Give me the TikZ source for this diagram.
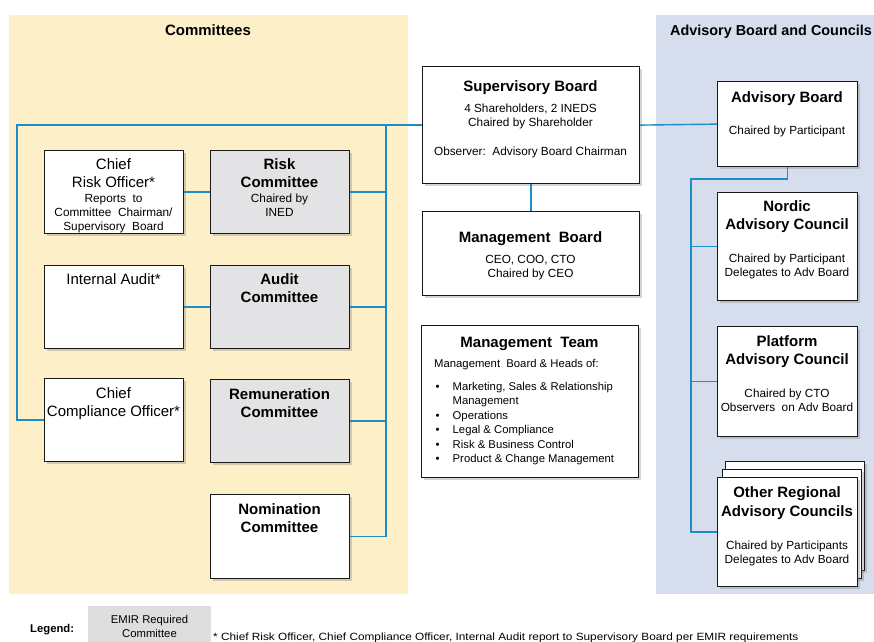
\documentclass[tikz,border=0pt]{standalone}
\usepackage{fontspec}
\setmainfont{Liberation Sans}
\usetikzlibrary{shadows}
\definecolor{panelY}{RGB}{253,239,200}
\definecolor{panelB}{RGB}{214,222,238}
\definecolor{boxG}{RGB}{227,227,229}
\definecolor{conn}{RGB}{30,140,198}
\definecolor{legG}{RGB}{222,222,222}
\newcommand\fT{\fontsize{15}{18}\selectfont\bfseries}
\newcommand\fR{\fontsize{15}{18}\selectfont}
\newcommand\fS{\fontsize{11.8}{14}\selectfont}
\newcommand\fM{\fontsize{11.3}{14.2}\selectfont}
\newcommand\tstrut{\rule{0pt}{12pt}}
\newcommand\sstrut{\rule{0pt}{10pt}}
\newcommand\bul{\hspace*{1.5pt}\makebox[17pt][l]{•}}
\begin{document}
\begin{tikzpicture}[x=1pt,y=-1pt,
  box/.style={draw=black!90, line width=1.2pt, fill=white, anchor=north west, inner sep=0,
    drop shadow={shadow xshift=2.5pt, shadow yshift=-2.5pt, opacity=0.35}},
  gbox/.style={box, fill=boxG},
  panel/.style={anchor=north west, inner sep=0, draw=none},
  txt/.style={inner sep=0, align=center, anchor=north, font=\fS},
  link/.style={draw=conn, line width=1.4pt}]
\useasboundingbox (0,0) rectangle (874,641);
% panels
\node[panel, fill=panelY, minimum width=399pt, minimum height=579pt] (cpanel) at (9,15) {};
\node[panel, fill=panelB, minimum width=218pt, minimum height=579pt] (apanel) at (656,15) {};
\node[inner sep=0, anchor=base, font=\fT] (ctitle) at (208,35.4) {Committees};
\node[inner sep=0, anchor=base west, font=\fontsize{14.4}{17}\selectfont\bfseries] (atitle) at (670,35.2) {Advisory Board and Councils};
% left boxes
\node[box, minimum width=139pt, minimum height=83pt] (cro) at (44,150) {};
\node[gbox, minimum width=139pt, minimum height=83pt] (risk) at (210,150) {};
\node[box, minimum width=139pt, minimum height=83pt] (ia) at (44,265) {};
\node[gbox, minimum width=139pt, minimum height=83pt] (audit) at (210,265) {};
\node[box, minimum width=139pt, minimum height=83pt] (cco) at (44,378) {};
\node[gbox, minimum width=139pt, minimum height=83pt] (rem) at (210,379) {};
\node[box, minimum width=139pt, minimum height=84pt] (nom) at (210,494) {};
% centre boxes
\node[box, minimum width=217pt, minimum height=117pt] (sb) at (422,66) {};
\node[box, minimum width=217pt, minimum height=84pt] (mb) at (422,211) {};
\node[box, minimum width=217pt, minimum height=152pt] (mt) at (421,325) {};
% right boxes
\node[box, minimum width=140pt, minimum height=85pt] (ab) at (717,81) {};
\node[box, minimum width=140pt, minimum height=108pt] (nordic) at (717,192) {};
\node[box, minimum width=140pt, minimum height=110pt] (platform) at (717,326) {};
\node[box, minimum width=139pt, minimum height=109pt] (other3) at (725,461) {};
\node[box, minimum width=139pt, minimum height=109pt] (other2) at (721.5,469) {};
\node[box, minimum width=140pt, minimum height=109pt] (other) at (717,477) {};
% texts
\node[txt] (crot) at (113.5,157.4) {\fR\tstrut Chief\\[4pt] \fR Risk Officer*\\[0.85pt] Reports\ \ to\\ Committee\ \ Chairman/\\ Supervisory\ \ Board};
\node[txt] (riskt) at (279.5,157.4) {\fT\tstrut Risk\\[4pt] \fT Committee\\[0.85pt] Chaired by\\ INED};
\node[txt] (iat) at (113.5,272.4) {\fR\tstrut Internal Audit*};
\node[txt] (auditt) at (279.5,272.4) {\fT\tstrut Audit\\[3.7pt] \fT Committee};
\node[txt] (ccot) at (113.5,386) {\fR\tstrut Chief\\[4pt] \fR Compliance Officer*};
\node[txt] (remt) at (279.5,387.7) {\fT\tstrut Remuneration\\[3.7pt] \fT Committee};
\node[txt] (nomt) at (279.5,502) {\fT\tstrut Nomination\\[4pt] \fT Committee};
\node[txt] (sbt) at (530.5,79.4) {\fT\tstrut Supervisory Board\\[6.85pt] 4 Shareholders, 2 INEDS\\ Chaired by Shareholder\\[15pt] Observer:\ \ Advisory Board Chairman};
\node[txt] (mbt) at (530.5,230.4) {\fT\tstrut Management\ \ Board\\[6.85pt] CEO, COO, CTO\\ Chaired by CEO};
\node[txt] (mtt) at (529.5,335.4) {\fT\tstrut Management\ \ Team};
\node[inner sep=0, anchor=north west, align=left, font=\fM] (mtb) at (434,357.3) {\sstrut Management\ \ Board \& Heads of:\\[9pt]
  \bul Marketing, Sales \& Relationship\\
  \hspace*{18.5pt}Management\\
  \bul Operations\\
  \bul Legal \& Compliance\\[0.8pt]
  \bul Risk \& Business Control\\
  \bul Product \& Change Management};
\node[txt] (abt) at (787,90.4) {\fT\tstrut Advisory Board\\[17.85pt] Chaired by Participant};
\node[txt] (nordict) at (787,199.4) {\fT\tstrut Nordic\\[4pt] \fT Advisory Council\\[18.85pt] Chaired by Participant\\ Delegates to Adv Board};
\node[txt] (platformt) at (787,334.4) {\fT\tstrut Platform\\[4pt] \fT Advisory Council\\[18.85pt] Chaired by CTO\\ Observers\ \ on Adv Board};
\node[txt] (othert) at (787,485.4) {\fT\tstrut Other Regional\\[4pt] \fT Advisory Councils\\[18.85pt] Chaired by Participants\\ Delegates to Adv Board};
% connectors
\coordinate (lx) at (17,0);
\coordinate (bx) at (386,0);
\coordinate (rx) at (691,0);
\coordinate (ry) at (0,179);
\draw[link] (sb.west) -- (sb.west -| lx) |- (cco.west);
\draw[link] (sb.west -| bx) |- (nom.east);
\draw[link] (risk.east) -- (risk.east -| bx);
\draw[link] (audit.east) -- (audit.east -| bx);
\draw[link] (rem.east) -- (rem.east -| bx);
\draw[link] (cro.east) -- (risk.west);
\draw[link] (ia.east) -- (audit.west);
\draw[link] (sb.south) -- (mb.north);
\draw[link] (sb.east) -- (ab.west);
\draw[link] (ab.south) -- (ab.south |- ry) -- (rx |- ry) |- (other.west);
\draw[link] (nordic.west -| rx) -- (nordic.west);
\draw[link] (platform.west -| rx) -- (platform.west);
% legend
\node[inner sep=0, anchor=base west, font=\fontsize{11.3}{13}\selectfont\bfseries] (legl) at (30,632) {Legend:};
\node[panel, fill=legG, minimum width=123pt, minimum height=40pt] (legbox) at (88,606) {};
\node[inner sep=0, anchor=base, align=center, font=\fontsize{11.3}{14}\selectfont] (legt) at (149.5,637) {EMIR Required\\ Committee};
\node[inner sep=0, anchor=base west, font=\fontsize{10.5}{12}\selectfont] (foot) at (213,640) {\scalebox{1.125}[1]{* Chief Risk Officer, Chief Compliance Officer, Internal Audit report to Supervisory Board per EMIR requirements}};
\end{tikzpicture}
\end{document}
